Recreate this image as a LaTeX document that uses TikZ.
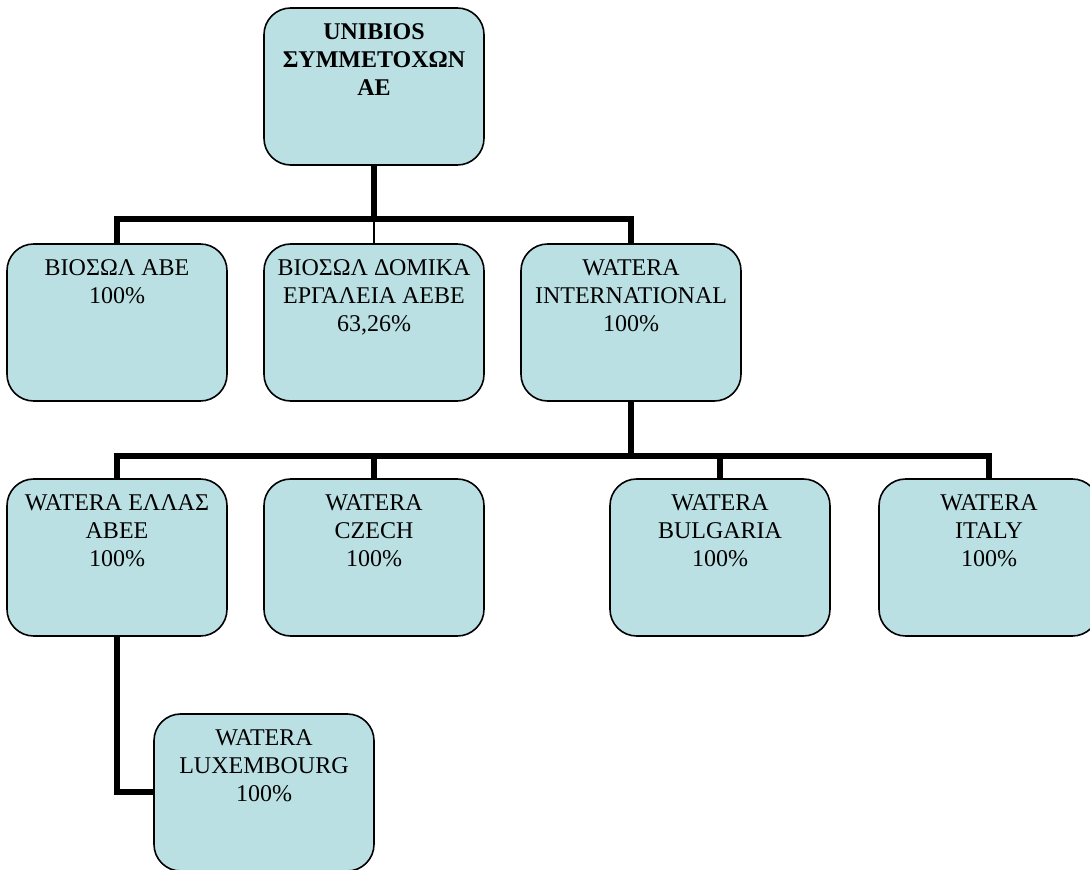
\documentclass[tikz,border=0pt]{standalone}
\usepackage{fontspec}
\setmainfont{Liberation Serif}
\definecolor{boxfill}{HTML}{BBE0E3}
\newcommand{\boxtext}[1]{\parbox[c][116pt][t]{160pt}{\vspace*{11.2pt}\centering\fontsize{18}{20.9}\selectfont #1}}
\tikzset{
  orgbox/.style={draw=black,fill=boxfill,line width=1.2pt,rounded corners=20pt,minimum width=165pt,minimum height=117.75pt,inner sep=0pt,outer sep=0pt,anchor=center},
  thickline/.style={draw=black,line width=4.5pt,line cap=butt,line join=miter},
  thinline/.style={draw=black,line width=1.1pt}
}
\begin{document}
\begin{tikzpicture}[x=0.75pt,y=-0.75pt]
\useasboundingbox (0,0) rectangle (1090,870);
\clip (0,0) rectangle (1090,870);
% connector junctions
\coordinate (bus1L) at (117,219.5);
\coordinate (bus1C) at (374,219.5);
\coordinate (bus1R) at (631,219.5);
\coordinate (bus2L) at (117,456);
\coordinate (bus2M) at (631,456);
\coordinate (bus2C) at (374,456);
\coordinate (bus2D) at (720,456);
\coordinate (bus2R) at (989,456);
\coordinate (luxT) at (117,792);
% boxes
\node[orgbox] (top) at (374,86.5) {\boxtext{\textbf{UNIBIOS\\ΣΥΜΜΕΤΟΧΩΝ\\ΑΕ}}};
\node[orgbox] (a) at (117,322.5) {\boxtext{ΒΙΟΣΩΛ ΑΒΕ\\100\%}};
\node[orgbox] (b) at (374,322.5) {\boxtext{ΒΙΟΣΩΛ ΔΟΜΙΚΑ\\ΕΡΓΑΛΕΙΑ ΑΕΒΕ\\63,26\%}};
\node[orgbox] (c) at (631,322.5) {\boxtext{WATERA\\INTERNATIONAL\\100\%}};
\node[orgbox] (d) at (117,557.5) {\boxtext{WATERA ΕΛΛΑΣ\\ΑΒΕΕ\\100\%}};
\node[orgbox] (e) at (374,557.5) {\boxtext{WATERA\\CZECH\\100\%}};
\node[orgbox] (f) at (720,557.5) {\boxtext{WATERA\\BULGARIA\\100\%}};
\node[orgbox] (g) at (989,557.5) {\boxtext{WATERA\\ITALY\\100\%}};
\node[orgbox] (h) at (264,792.5) {\boxtext{WATERA\\LUXEMBOURG\\100\%}};
% connectors
\draw[thickline] (top.south) -- (bus1C);
\draw[thickline] (a.north) |- (bus1L) -- (bus1R) -| (c.north);
\draw[thinline] (bus1C) -- (b.north);
\draw[thickline] (c.south) -- (bus2M);
\draw[thickline] (d.north) |- (bus2L) -- (bus2R) -| (g.north);
\draw[thickline] (bus2C) -- (e.north);
\draw[thickline] (bus2D) -- (f.north);
\draw[thickline] (d.south) -- (luxT) -- (h.west |- luxT);
\end{tikzpicture}
\end{document}
